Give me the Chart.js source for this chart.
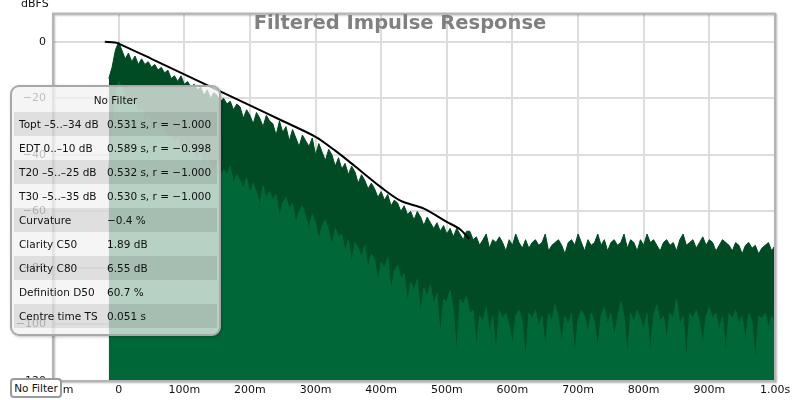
<!DOCTYPE html>
<html>
<head>
<meta charset="utf-8">
<title>Filtered Impulse Response</title>
<script src="https://cdn.jsdelivr.net/npm/chart.js@4.4.0/dist/chart.umd.min.js"></script>
<style>
    body { margin: 0; background: #fff; font-family: "DejaVu Sans", sans-serif; }
    #wrap { position: relative; width: 800px; height: 400px; overflow: hidden; }
    #title { position: absolute; left: 0; top: 11px; width: 800px; text-align: center;
             font-weight: bold; font-size: 19.5px; color: #808080; }
    #unit { position: absolute; left: 21px; top: -3px; font-size: 11px; color: #111; }
    #stats { position: absolute; left: 10px; top: 85px; width: 207px; height: 247px;
             border: 2px solid #a8a8a8; border-radius: 9px; background: rgba(240, 242, 240, 0.76);
             box-shadow: 1px 1px 3px rgba(0, 0, 0, 0.25); }
    #stats .head { height: 25px; line-height: 27px; text-align: center; font-size: 10.5px; color: #111; }
    #stats .row { height: 24px; line-height: 24px; margin: 0 2px; font-size: 10.5px; color: #111; display: flex; white-space: nowrap; }
    #stats .row.dark { background: rgba(0, 0, 0, 0.09); }
    #stats .row .name { width: 93px; padding-left: 5px; box-sizing: border-box; }
    #tag { position: absolute; left: 10px; top: 378px; width: 48px; height: 16px; border: 2px solid #9a9a9a;
           border-radius: 4px; background: #fff; font-size: 10.5px; line-height: 16px; text-align: center; color: #111; }
</style>
</head>
<body>
<div id="wrap">
    <canvas id="ir-chart" width="800" height="400"></canvas>
    <div id="title">Filtered Impulse Response</div>
    <div id="unit">dBFS</div>
    <div id="stats"><div class="head">No Filter</div></div>
    <div id="tag">No Filter</div>
</div>
<script>
// sample grid of the envelope data (seconds)
var sampleStart = -0.015;
var sampleStep = 0.005;

// peak level (dark green), dB
var peakDb = [
    -13, -9, -3, 0, -3, -6, -4, -7, -5, -8,
    -6, -8, -7, -9, -8, -10, -9, -11, -10, -13,
    -12, -14, -12, -15, -14, -16, -15, -17, -16, -19,
    -17, -20, -18, -19, -21, -20, -22, -21, -24, -22,
    -23, -27, -24, -26, -29, -25, -27, -30, -26, -28,
    -29, -33, -28, -32, -30, -35, -31, -34, -37, -33,
    -35, -37, -34, -40, -36, -39, -42, -38, -40, -44,
    -41, -45, -43, -47, -44, -46, -50, -47, -49, -52,
    -50, -52, -55, -53, -56, -54, -58, -56, -57, -60,
    -58, -61, -60, -63, -60, -62, -65, -62, -64, -66,
    -64, -67, -65, -68, -66, -69, -66, -68, -70, -67,
    -67, -70, -69, -72, -70, -68, -73, -70, -71, -69,
    -71, -74, -70, -72, -68, -71, -73, -70, -73, -71,
    -70, -72, -71, -68, -74, -72, -71, -70, -72, -75,
    -71, -70, -72, -68, -71, -74, -70, -72, -71, -68,
    -72, -70, -74, -71, -70, -72, -71, -68, -73, -70,
    -71, -74, -70, -72, -68, -71, -70, -72, -74, -71,
    -70, -72, -71, -74, -70, -68, -72, -71, -70, -73,
    -71, -69, -72, -70, -71, -74, -72, -70, -71, -72,
    -74, -71, -72, -75, -72, -71, -73, -72, -75, -73,
    -72, -71, -74, -72
];

// lower level (medium green), dB
var lowDb = [
    -45, -32, -20, -14, -16, -20, -19, -23, -21, -25,
    -24, -28, -26, -30, -27, -32, -29, -31, -34, -33,
    -36, -34, -38, -35, -40, -37, -39, -42, -38, -44,
    -41, -43, -46, -42, -48, -45, -47, -44, -50, -47,
    -49, -52, -48, -54, -50, -53, -58, -51, -55, -53,
    -56, -54, -62, -57, -55, -59, -57, -64, -60, -58,
    -62, -66, -61, -64, -70, -65, -63, -67, -72, -66,
    -69, -68, -74, -70, -78, -71, -73, -76, -72, -80,
    -75, -77, -85, -78, -80, -76, -88, -81, -79, -84,
    -82, -92, -85, -88, -84, -96, -87, -90, -86, -93,
    -89, -104, -91, -92, -88, -95, -110, -91, -93, -90,
    -96, -95, -108, -97, -99, -94, -103, -97, -110, -95,
    -98, -96, -100, -107, -97, -95, -99, -112, -96, -98,
    -95, -101, -97, -108, -96, -99, -93, -98, -106, -97,
    -100, -96, -111, -98, -95, -97, -103, -96, -99, -109,
    -97, -94, -100, -96, -104, -98, -92, -97, -111, -96,
    -99, -95, -98, -102, -96, -110, -97, -93, -99, -97,
    -105, -96, -98, -91, -100, -97, -112, -96, -98, -95,
    -99, -107, -97, -94, -98, -96, -102, -97, -110, -96,
    -98, -95, -100, -97, -106, -96, -99, -113, -97, -98,
    -96, -101, -97, -99
];

// Schroeder integral (black line)
var schroederT = [-0.021, -0.006, 0, 0.05, 0.1, 0.15, 0.2, 0.25, 0.3, 0.33, 0.36, 0.4, 0.43, 0.465, 0.5, 0.52, 0.534];
var schroederDb = [0, -0.2, -0.6, -6, -11.5, -17, -22.5, -28, -33.6, -38.5, -44, -51.5, -56.3, -59, -63.7, -66.3, -69.7];

// axes
var xTicks = [-0.1, 0, 0.1, 0.2, 0.3, 0.4, 0.5, 0.6, 0.7, 0.8, 0.9, 1.0];
var xTickLabels = ['\u2212100m', '0', '100m', '200m', '300m', '400m', '500m', '600m', '700m', '800m', '900m', '1.00s'];
var yTicks = [-120, -100, -80, -60, -40, -20, 0];
var yTickLabels = ['\u2212120', '\u2212100', '\u221280', '\u221260', '\u221240', '\u221220', '0'];

// stats panel
var statNames = ['Topt \u20135..\u201334 dB', 'EDT  0..\u201310 dB', 'T20 \u20135..\u201325 dB', 'T30 \u20135..\u201335 dB',
    'Curvature', 'Clarity C50', 'Clarity C80', 'Definition D50', 'Centre time TS'];
var statValues = ['0.531 s,  r = \u22121.000', '0.589 s,  r = \u22120.998', '0.532 s,  r = \u22121.000', '0.530 s,  r = \u22121.000',
    '\u22120.4 %', '1.89 dB', '6.55 dB', '60.7 %', '0.051 s'];

function toPoints(values) {
    return values.map(function(v, i) {
        return { x: sampleStart + i * sampleStep, y: v };
    });
}

function buildStats() {
    var box = document.getElementById('stats');
    statNames.forEach(function(name, i) {
        var row = document.createElement('div');
        row.className = 'row' + (i % 2 === 0 ? ' dark' : '');
        var a = document.createElement('span');
        a.className = 'name';
        a.textContent = name;
        var b = document.createElement('span');
        b.textContent = statValues[i];
        row.appendChild(a);
        row.appendChild(b);
        box.appendChild(row);
    });
}

// plot frame
var framePlugin = {
    id: 'frame',
    afterDraw: function(chart) {
        var ctx = chart.ctx;
        var a = chart.chartArea;
        ctx.save();
        ctx.shadowColor = 'rgba(0,0,0,0.3)';
        ctx.shadowBlur = 2;
        ctx.shadowOffsetX = 1;
        ctx.shadowOffsetY = 1;
        ctx.strokeStyle = '#b4b4b4';
        ctx.lineWidth = 2;
        ctx.strokeRect(a.left, a.top, a.right - a.left, a.bottom - a.top);
        ctx.restore();
    }
};

function initChart() {
    var ctx = document.getElementById('ir-chart');
    new Chart(ctx, {
        type: 'line',
        data: {
            datasets: [{
                label: 'Schroeder',
                data: schroederT.map(function(t, i) { return { x: t, y: schroederDb[i] }; }),
                borderColor: '#000',
                borderWidth: 2,
                pointRadius: 0,
                tension: 0.3,
                fill: false,
                order: 0
            }, {
                label: 'Low',
                data: toPoints(lowDb),
                borderColor: '#006838',
                backgroundColor: '#006838',
                borderWidth: 1,
                pointRadius: 0,
                tension: 0,
                fill: 'start',
                order: 1
            }, {
                label: 'Peak',
                data: toPoints(peakDb),
                borderColor: '#004a24',
                backgroundColor: '#004a24',
                borderWidth: 1,
                pointRadius: 0,
                tension: 0,
                fill: 'start',
                order: 2
            }]
        },
        options: {
            responsive: false,
            animation: false,
            layout: { padding: { top: 13, right: 25, left: 0, bottom: 0 } },
            plugins: {
                legend: { display: false },
                tooltip: { enabled: false }
            },
            scales: {
                x: {
                    type: 'linear',
                    min: -0.1,
                    max: 1.0,
                    afterBuildTicks: function(scale) {
                        scale.ticks = xTicks.map(function(v) { return { value: v }; });
                    },
                    afterFit: function(scale) { scale.height = 19; },
                    ticks: {
                        autoSkip: false,
                        maxRotation: 0,
                        padding: 3,
                        color: '#111',
                        font: { family: 'DejaVu Sans', size: 11 },
                        callback: function(v, i) { return xTickLabels[i]; }
                    },
                    grid: { color: '#dddddd', lineWidth: 2, drawTicks: false },
                    border: { display: false }
                },
                y: {
                    min: -120,
                    max: 10,
                    afterBuildTicks: function(scale) {
                        scale.ticks = yTicks.map(function(v) { return { value: v }; });
                    },
                    afterFit: function(scale) { scale.width = 53; },
                    ticks: {
                        padding: 7,
                        color: '#111',
                        font: { family: 'DejaVu Sans', size: 11 },
                        callback: function(v, i) { return yTickLabels[i]; }
                    },
                    grid: { color: '#dddddd', lineWidth: 2, drawTicks: false },
                    border: { display: false }
                }
            }
        },
        plugins: [framePlugin]
    });
}

buildStats();
initChart();
</script>
</body>
</html>
